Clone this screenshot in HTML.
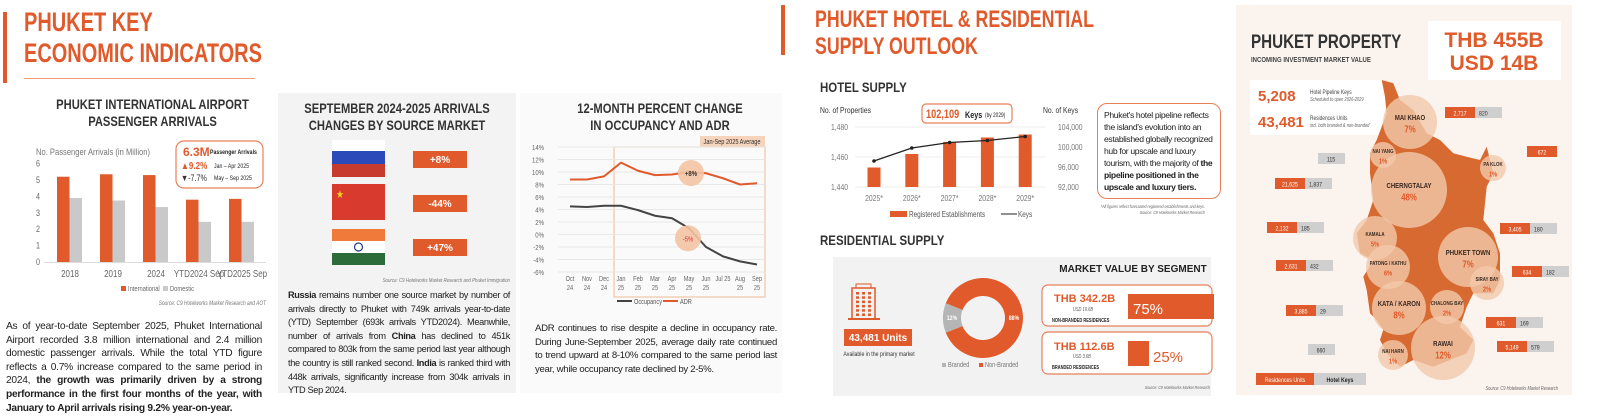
<!DOCTYPE html>
<html><head><meta charset="utf-8">
<style>
body{margin:0;width:1600px;height:420px;overflow:hidden;background:#fff;font-family:"Liberation Sans",sans-serif;position:relative}
.a{position:absolute}
.p{position:absolute;font-size:10.2px;line-height:13.6px;text-align:justify;color:#222;letter-spacing:-0.25px}
.ttl{position:absolute;color:#e05a2b;font-weight:bold;font-size:27px;line-height:31px;transform:scaleX(.74);transform-origin:left top;white-space:nowrap}
.ch{position:absolute;font-weight:bold;color:#333;font-size:14px;line-height:17px;text-align:center;transform:scaleX(.8);transform-origin:center top;white-space:nowrap}
.hd{position:absolute;font-weight:bold;font-size:14px;color:#333;transform:scaleX(.82);transform-origin:left top;white-space:nowrap}
svg text{font-family:"Liberation Sans",sans-serif}
</style></head><body>
<div class="a" style="left:3px;top:12px;width:4px;height:71px;background:#e05a2b"></div>
<div class="ttl" style="left:24px;top:7px">PHUKET KEY<br>ECONOMIC INDICATORS</div>
<div class="a" style="left:24px;top:78px;width:231px;height:1px;background:#f0a070"></div>
<div class="a" style="left:278px;top:93px;width:238px;height:300px;background:#f3f3f3"></div>
<div class="a" style="left:520px;top:93px;width:262px;height:300px;background:#fafafa"></div>
<div class="ch" style="left:30px;top:96px;width:245px">PHUKET INTERNATIONAL AIRPORT<br>PASSENGER ARRIVALS</div>
<div class="ch" style="left:278px;top:100px;width:238px">SEPTEMBER 2024-2025 ARRIVALS<br>CHANGES BY SOURCE MARKET</div>
<div class="ch" style="left:540px;top:100px;width:240px">12-MONTH PERCENT CHANGE<br>IN OCCUPANCY AND ADR</div>
<div class="p" style="left:6px;top:320px;width:256px">As of year-to-date September 2025, Phuket International Airport recorded 3.8 million international and 2.4 million domestic passenger arrivals. While the total YTD figure reflects a 0.7% increase compared to the same period in 2024, <b>the growth was primarily driven by a strong performance in the first four months of the year, with January to April arrivals rising 9.2% year-on-year.</b></div>
<div class="p" style="left:288px;top:289px;width:222px;font-size:9.2px;letter-spacing:-0.35px"><b>Russia</b> remains number one source market by number of arrivals directly to Phuket with 749k arrivals year-to-date (YTD) September (693k arrivals YTD2024). Meanwhile, number of arrivals from <b>China</b> has declined to 451k compared to 803k from the same period last year although the country is still ranked second. <b>India</b> is ranked third with 448k arrivals, significantly increase from 304k arrivals in YTD Sep 2024.</div>
<div class="p" style="left:535px;top:322px;width:242px;font-size:9.6px;letter-spacing:-0.3px">ADR continues to rise despite a decline in occupancy rate. During June-September 2025, average daily rate continued to trend upward at 8-10% compared to the same period last year, while occupancy rate declined by 2-5%.</div>

<div class="a" style="left:781px;top:5px;width:4px;height:50px;background:#e05a2b"></div>
<div class="ttl" style="left:815px;top:6px;font-size:24px;line-height:27px">PHUKET HOTEL &amp; RESIDENTIAL<br>SUPPLY OUTLOOK</div>
<div class="hd" style="left:820px;top:79px">HOTEL SUPPLY</div>
<div class="a" style="left:1097px;top:103px;width:110px;height:84px;border:1.5px solid #e8805a;border-radius:10px;padding:5px 6px;font-size:8.6px;line-height:12px;color:#222;letter-spacing:-0.35px">Phuket's hotel pipeline reflects the island's evolution into an established globally recognized hub for upscale and luxury tourism, with the majority of <b>the pipeline positioned in the upscale and luxury tiers.</b></div>
<div class="hd" style="left:820px;top:232px">RESIDENTIAL SUPPLY</div>
<div class="a" style="left:833px;top:257px;width:378px;height:139px;background:#f2f2f2"></div>
<div class="a" style="left:1236px;top:5px;width:336px;height:390px;background:#fbf3ee"></div>

<svg class="a" style="left:0;top:0" width="1600" height="420">
<g id="g1"></g><g id="g2"></g><g id="g3"></g><g id="g4"></g><g id="g5"></g>
</svg>

<script>
// ---- Airport chart data
const airCats=["2018","2019","2024","YTD2024 Sep","YTD2025 Sep"];
const airIntl=[5.2,5.35,5.3,3.8,3.85];
const airDom=[3.9,3.75,3.35,2.45,2.45];
const airTicks=[0,1,2,3,4,5,6];
// ---- Occupancy / ADR data
const omMonths=[["Oct","24"],["Nov","24"],["Dec","24"],["Jan","25"],["Feb","25"],["Mar","25"],["Apr","25"],["May","25"],["Jun","25"],["Jul 25",""],["Aug","25"],["Sep","25"]];
const omAdr=[8.8,8.8,9.3,11.5,10.2,9.5,9.6,10,9.8,9.0,8.0,8.2];
const omOcc=[4.5,4.4,4.6,4.6,3.9,3.0,2.6,1.0,-2.0,-3.5,-4.3,-4.8];
const omTicks=[14,12,10,8,6,4,2,0,-2,-4,-6];
// ---- Hotel supply data
const hsYears=["2025*","2026*","2027*","2028*","2029*"];
const hsProps=[1453,1462,1470,1473,1475];
const hsKeys=[97200,99800,100900,101300,102100];
const hsLeftTicks=[1440,1460,1480];
const hsRightTicks=[92000,96000,100000,104000];
// ---- Residential donut
const donutLabels=["Branded","Non-Branded"];
const donutVals=[12,88];

const NS="http://www.w3.org/2000/svg";
const OR="#e05a2b",GR="#c9c9c9";
function mk(par,tag,at,txt){const e=document.createElementNS(NS,tag);for(const k in at)e.setAttribute(k,at[k]);if(txt!==undefined)e.textContent=txt;par.appendChild(e);return e;}

// ===== Airport chart
(function(){
const g=document.getElementById('g1');
const y=v=>262-v*16.4, x=i=>76+i*43;
mk(g,'text',{x:36,y:155,'font-size':9.5,fill:'#777'},'No. Passenger Arrivals (in Million)');
airTicks.forEach(t=>{const e=mk(g,'text',{x:36,y:y(t)+3,'font-size':9,fill:'#666'},t);});
mk(g,'line',{x1:44,x2:266,y1:262.5,y2:262.5,stroke:'#ddd'});
airCats.forEach((c,i)=>{
 const b=mk(g,'rect',{x:x(i)-19,y:y(airIntl[i]),width:12.5,height:airIntl[i]*16.4,fill:OR});
 
 const d=mk(g,'rect',{x:x(i)-6.5,y:y(airDom[i]),width:12.5,height:airDom[i]*16.4,fill:GR});
 
 const l=mk(g,'text',{x:x(i)-6,y:277,'font-size':10,fill:'#666','text-anchor':'middle'},c);
 
});
mk(g,'rect',{x:121,y:286,width:5,height:5,fill:OR});mk(g,'text',{x:128,y:291,'font-size':7.2,fill:'#666'},'International');
mk(g,'rect',{x:163,y:286,width:5,height:5,fill:GR});mk(g,'text',{x:170,y:291,'font-size':7.2,fill:'#666'},'Domestic');
mk(g,'text',{x:266,y:305,'font-size':6,fill:'#777','text-anchor':'end','font-style':'italic'},'Source: C9 Hotelworks Market Research and AOT');
mk(g,'rect',{x:176,y:141,width:87,height:47,rx:8,fill:'#fff',stroke:'#e8805a','stroke-width':1.2});
mk(g,'text',{x:183,y:156,'font-size':12,fill:OR,'font-weight':'bold','font-family':'Liberation Serif'},'6.3M');
mk(g,'text',{x:210,y:154,'font-size':6.5,fill:'#222','font-weight':'bold'},'Passenger Arrivals');
mk(g,'text',{x:181,y:169,'font-size':10,fill:OR,'font-weight':'bold'},'▲9.2%');
mk(g,'text',{x:214,y:168,'font-size':6.5,fill:'#222'},'Jan – Apr 2025');
mk(g,'text',{x:181,y:181,'font-size':9,fill:'#333'},'▼-7.7%');
mk(g,'text',{x:214,y:180,'font-size':6.5,fill:'#222'},'May – Sep 2025');
})();

// ===== Flags
(function(){
const g=document.getElementById('g2');
const fx=332,fw=53;
mk(g,'rect',{x:fx,y:140,width:fw,height:12,fill:'#fff'});mk(g,'rect',{x:fx,y:151,width:fw,height:13,fill:'#2b49b8'});mk(g,'rect',{x:fx,y:164,width:fw,height:13,fill:'#c73b2e'});
mk(g,'rect',{x:fx,y:184,width:fw,height:36,fill:'#d93a2e'});mk(g,'text',{x:336,y:198,'font-size':11,fill:'#f7d21c'},'★');
mk(g,'rect',{x:fx,y:229,width:fw,height:12,fill:'#f07a3a'});mk(g,'rect',{x:fx,y:241,width:fw,height:12,fill:'#fff'});mk(g,'rect',{x:fx,y:253,width:fw,height:12,fill:'#2c6b3a'});
mk(g,'circle',{cx:358.5,cy:247,r:4,fill:'none',stroke:'#233d8c','stroke-width':1.2});
const vals=['+8%','-44%','+47%'],ys=[151,195,239];
vals.forEach((v,i)=>{mk(g,'rect',{x:413,y:ys[i],width:54,height:17,fill:OR});mk(g,'text',{x:440,y:ys[i]+12,'font-size':10,fill:'#fff','text-anchor':'middle','font-family':'Liberation Serif','font-weight':'bold'},v);});
mk(g,'text',{x:510,y:282,'font-size':5.5,fill:'#777','text-anchor':'end','font-style':'italic'},'Source: C9 Hotelworks Market Research and Phuket Immigration');
})();

// ===== Occupancy & ADR
(function(){
const g=document.getElementById('g3');
const y=v=>234.5-v*6.25, x=i=>570+i*17;
mk(g,'rect',{x:614,y:147,width:151,height:150,fill:'none',stroke:'#f3c4a6','stroke-width':1.2});
mk(g,'rect',{x:700,y:136,width:65,height:11,fill:'#f6d3bb'});
mk(g,'text',{x:732,y:144,'font-size':7,fill:'#333','text-anchor':'middle'},'Jan-Sep 2025 Average');
omTicks.forEach(t=>{mk(g,'line',{x1:558,x2:765,y1:y(t),y2:y(t),stroke:'#e8e8e8'});const e=mk(g,'text',{x:544,y:y(t)+3,'font-size':7.5,fill:'#666','text-anchor':'end'},t+'%');});
const path=arr=>arr.map((v,i)=>(i?'L':'M')+x(i)+','+y(v)).join(' ');
const a=mk(g,'path',{d:path(omAdr),fill:'none',stroke:OR,'stroke-width':2,'stroke-linejoin':'round'});
const o=mk(g,'path',{d:path(omOcc),fill:'none',stroke:'#444','stroke-width':2,'stroke-linejoin':'round'});
mk(g,'circle',{cx:x(7)+2,cy:y(omAdr[7])+1,r:13,fill:'#f3c3a3',opacity:0.9});mk(g,'text',{x:x(7)+2,y:y(omAdr[7])+4,'font-size':7.5,fill:'#333','text-anchor':'middle','font-weight':'bold'},'+8%');
mk(g,'circle',{cx:x(7)-1,cy:y(omOcc[7])+10,r:13,fill:'#f3c3a3',opacity:0.9});mk(g,'text',{x:x(7)-1,y:y(omOcc[7])+13,'font-size':7.5,fill:'#d33','text-anchor':'middle'},'-5%');
omMonths.forEach((m,i)=>{mk(g,'text',{x:x(i),y:281,'font-size':7,fill:'#666','text-anchor':'middle'},m[0]);mk(g,'text',{x:x(i),y:290,'font-size':7,fill:'#666','text-anchor':'middle'},m[1]);});
mk(g,'line',{x1:617,x2:632,y1:301,y2:301,stroke:'#444','stroke-width':2});mk(g,'text',{x:634,y:304,'font-size':7,fill:'#555'},'Occupancy');
mk(g,'line',{x1:663,x2:678,y1:301,y2:301,stroke:OR,'stroke-width':2});mk(g,'text',{x:680,y:304,'font-size':7,fill:'#555'},'ADR');
})();

// ===== Hotel supply
(function(){
const g=document.getElementById('g4');
const y=v=>187-(v-1440)*1.5, yk=v=>187-(v-92000)*0.005, x=i=>874+i*37.8;
mk(g,'text',{x:820,y:113,'font-size':8.5,fill:'#333'},'No. of Properties');
mk(g,'text',{x:1043,y:113,'font-size':8.5,fill:'#333'},'No. of Keys');
hsLeftTicks.forEach(t=>{mk(g,'line',{x1:855,x2:1045,y1:y(t),y2:y(t),stroke:'#eee'});mk(g,'text',{x:848,y:y(t)+3,'font-size':8.5,fill:'#777','text-anchor':'end'},t.toLocaleString('en-US'));});
hsRightTicks.forEach(t=>{mk(g,'text',{x:1058,y:yk(t)+3,'font-size':8.5,fill:'#777'},t.toLocaleString('en-US'));});
hsYears.forEach((c,i)=>{const b=mk(g,'rect',{x:x(i)-6.5,y:y(hsProps[i]),width:13,height:187-y(hsProps[i]),fill:OR});
 mk(g,'text',{x:x(i),y:201,'font-size':8.5,fill:'#777','text-anchor':'middle'},c);});
const k=mk(g,'path',{d:hsKeys.map((v,i)=>(i?'L':'M')+x(i)+','+yk(v)).join(' '),fill:'none',stroke:'#222','stroke-width':1.3});
hsKeys.forEach((v,i)=>mk(g,'circle',{cx:x(i),cy:yk(v),r:1.8,fill:'#222'}));
mk(g,'rect',{x:890,y:211,width:17,height:6,fill:OR});mk(g,'text',{x:909,y:217,'font-size':8,fill:'#555'},'Registered Establishments');
mk(g,'line',{x1:1001,x2:1017,y1:214,y2:214,stroke:'#222'});mk(g,'text',{x:1018,y:217,'font-size':8,fill:'#555'},'Keys');
mk(g,'rect',{x:922,y:104,width:90,height:19,rx:4,fill:'#fff',stroke:'#e8805a','stroke-width':1.2});
mk(g,'text',{x:926,y:118,'font-size':11.5,fill:OR,'font-weight':'bold'},'102,109');mk(g,'text',{x:965,y:118,'font-size':9,fill:'#222','font-weight':'bold'},'Keys');mk(g,'text',{x:985,y:117,'font-size':6,fill:'#222'},'(by 2029)');
mk(g,'text',{x:1205,y:208,'font-size':4.5,fill:'#666','text-anchor':'end','font-style':'italic'},'*All figures reflect forecasted registered establishments and keys.');
mk(g,'text',{x:1205,y:214,'font-size':4.5,fill:'#666','text-anchor':'end','font-style':'italic'},'Source: C9 Hotelworks Market Research');
})();

// ===== Residential
(function(){
const g=document.getElementById('g5');
mk(g,'rect',{x:852,y:288,width:23,height:31,fill:'none',stroke:OR,'stroke-width':1.5});mk(g,'rect',{x:848,y:318,width:32,height:2,fill:OR});mk(g,'rect',{x:856,y:284,width:15,height:4,fill:'none',stroke:OR});
for(let r=0;r<6;r++)for(let c=0;c<3;c++)mk(g,'rect',{x:856+c*6,y:292+r*4.3,width:3,height:2.5,fill:OR});
mk(g,'rect',{x:844,y:329,width:68,height:17,fill:OR});mk(g,'text',{x:878,y:341,'font-size':10,fill:'#fff','text-anchor':'middle','font-weight':'bold','font-family':'Liberation Serif'},'43,481 Units');
mk(g,'text',{x:879,y:356,'font-size':6.5,fill:'#333','text-anchor':'middle'},'Available in the primary market');
const cx=983,cy=318,R=40,r=22;
const cols=['#b5b5b5',OR];const tot=donutVals.reduce((s,v)=>s+v,0);
let a0=Math.PI-(donutVals[0]/tot)*Math.PI;
donutVals.forEach((v,i)=>{const a1=a0+v/tot*Math.PI*2;const lg=(a1-a0)>Math.PI?1:0;
 const P=(rr,a)=>(cx+rr*Math.cos(a)).toFixed(2)+','+(cy+rr*Math.sin(a)).toFixed(2);
 const s=mk(g,'path',{d:`M${P(R,a0)} A${R},${R} 0 ${lg} 1 ${P(R,a1)} L${P(r,a1)} A${r},${r} 0 ${lg} 0 ${P(r,a0)} Z`,fill:cols[i]});
 
 const am=(a0+a1)/2;mk(g,'text',{x:cx+31*Math.cos(am),y:cy+31*Math.sin(am)+2,'font-size':6.5,fill:'#fff','text-anchor':'middle','font-weight':'bold'},v+'%');
 a0=a1;});
mk(g,'rect',{x:942,y:363,width:4,height:4,fill:'#b5b5b5'});mk(g,'text',{x:948,y:367,'font-size':7,fill:'#777'},donutLabels[0]);
mk(g,'rect',{x:979,y:363,width:4,height:4,fill:OR});mk(g,'text',{x:985,y:367,'font-size':7,fill:'#777'},donutLabels[1]);
mk(g,'text',{x:1133,y:272,'font-size':10,fill:'#222','text-anchor':'middle','font-weight':'bold','font-family':'Liberation Serif'},'MARKET VALUE BY SEGMENT');
mk(g,'rect',{x:1042,y:285,width:170,height:41,rx:6,fill:'#fff',stroke:'#e8805a','stroke-width':1.2});
mk(g,'rect',{x:1042,y:332,width:170,height:42,rx:6,fill:'#fff',stroke:'#e8805a','stroke-width':1.2});
mk(g,'text',{x:1054,y:302,'font-size':11,fill:OR,'font-weight':'bold','font-family':'Liberation Serif'},'THB 342.2B');
mk(g,'text',{x:1073,y:311,'font-size':5,fill:'#555','font-style':'italic'},'USD 10.6B');
mk(g,'text',{x:1052,y:322,'font-size':5,fill:'#222','font-weight':'bold'},'NON-BRANDED RESIDENCES');
mk(g,'rect',{x:1128,y:294,width:86,height:25,fill:OR});mk(g,'text',{x:1133,y:314,'font-size':15,fill:'#fff','font-family':'Liberation Serif'},'75%');
mk(g,'text',{x:1054,y:350,'font-size':11,fill:OR,'font-weight':'bold','font-family':'Liberation Serif'},'THB 112.6B');
mk(g,'text',{x:1073,y:358,'font-size':5,fill:'#555','font-style':'italic'},'USD 3.6B');
mk(g,'text',{x:1052,y:369,'font-size':5,fill:'#222','font-weight':'bold'},'BRANDED RESIDENCES');
mk(g,'rect',{x:1128,y:341,width:21,height:25,fill:OR});mk(g,'text',{x:1153,y:362,'font-size':15,fill:OR,'font-family':'Liberation Serif'},'25%');
mk(g,'text',{x:1210,y:389,'font-size':4.5,fill:'#666','text-anchor':'end','font-style':'italic'},'Source: C9 Hotelworks Market Research');

// ===== Property map
mk(g,'text',{x:1251,y:48,'font-size':19,fill:'#333','font-weight':'bold'},'PHUKET PROPERTY');
mk(g,'text',{x:1251,y:62,'font-size':7.5,fill:'#444','font-weight':'bold'},'INCOMING INVESTMENT MARKET VALUE');
mk(g,'rect',{x:1428,y:21,width:133,height:59,fill:'#fff'});
mk(g,'text',{x:1494,y:47,'font-size':21,fill:OR,'font-weight':'bold','font-family':'Liberation Serif','text-anchor':'middle'},'THB 455B');
mk(g,'text',{x:1494,y:70,'font-size':21,fill:OR,'font-weight':'bold','font-family':'Liberation Serif','text-anchor':'middle'},'USD 14B');
mk(g,'rect',{x:1250,y:80,width:135,height:55,fill:'#fff'});
mk(g,'text',{x:1258,y:101,'font-size':15,fill:OR,'font-weight':'bold','font-family':'Liberation Serif'},'5,208');
mk(g,'text',{x:1310,y:94,'font-size':6,fill:'#444'},'Hotel Pipeline Keys');mk(g,'text',{x:1310,y:101,'font-size':5,fill:'#666','font-style':'italic'},'Scheduled to open 2026-2029');
mk(g,'text',{x:1258,y:127,'font-size':15,fill:OR,'font-weight':'bold','font-family':'Liberation Serif'},'43,481');
mk(g,'text',{x:1310,y:120,'font-size':6,fill:'#444'},'Residences Units');mk(g,'text',{x:1310,y:127,'font-size':5,fill:'#666','font-style':'italic'},'incl. both branded & non-branded');
const poly=[[545,240],[580,250],[600,300],[640,330],[680,400],[720,420],[760,460],[800,470],[840,480],[860,440],[870,480],[880,520],[860,560],[850,660],[880,700],[900,760],[900,840],[880,880],[820,880],[800,920],[780,980],[820,1020],[800,1060],[700,1100],[640,1080],[600,1100],[560,1060],[540,1020],[550,990],[530,960],[510,940],[500,870],[490,830],[520,780],[480,760],[470,700],[500,660],[520,600],[510,520],[510,460],[530,420],[560,340],[555,290]];
const m=mk(g,'polygon',{points:poly.map(p=>(p[0]/3+1200).toFixed(1)+','+(p[1]/3).toFixed(1)).join(' '),fill:'#d66a30'});

const circ=[["MAI KHAO","7%",1410,122,27],["NAI YANG","1%",1383,155,13],["CHERNGTALAY","48%",1409,190,38],["PA KLOK","1%",1493,168,13],["KAMALA","5%",1375,238,22],["PATONG / KATHU","6%",1388,267,22],["PHUKET TOWN","7%",1468,257,30],["SIRAY BAY","2%",1487,283,17],["KATA / KARON","8%",1399,308,27],["CHALONG BAY","2%",1447,307,17],["RAWAI","12%",1443,348,32],["NAI HARN","1%",1393,355,15]];
circ.forEach(c=>{mk(g,'circle',{cx:c[2],cy:c[3],r:c[4],fill:'#f3c9ab',opacity:0.8});});
circ.forEach(c=>{const fs=c[4]>25?7.5:5.5;mk(g,'text',{x:c[2],y:c[3]-2,'font-size':fs,fill:'#3a2a22','text-anchor':'middle','font-weight':'bold'},c[0]);
 mk(g,'text',{x:c[2],y:c[3]+fs+3,'font-size':fs*1.3,fill:OR,'text-anchor':'middle','font-weight':'bold'},c[1]);});
const lab=[[1445,107,"2,717","820"],[1318,153,"","115"],[1527,146,"672",""],[1275,178,"21,625","1,837"],[1500,223,"3,405","180"],[1267,222,"2,132","185"],[1512,266,"634","182"],[1276,260,"2,631","432"],[1286,305,"3,885","29"],[1486,317,"631","169"],[1308,344,"","660"],[1497,341,"5,149","579"]];
lab.forEach(l=>{let x=l[0];if(l[2]){mk(g,'rect',{x:x,y:l[1],width:30,height:11,fill:OR});mk(g,'text',{x:x+15,y:l[1]+8.5,'font-size':6.5,fill:'#fff','text-anchor':'middle'},l[2]);x+=30;}
 if(l[3]){mk(g,'rect',{x:x,y:l[1],width:27,height:11,fill:'#cfcfcf'});mk(g,'text',{x:x+(l[2]?4:13),y:l[1]+8.5,'font-size':6.5,fill:'#333','text-anchor':l[2]?'start':'middle'},l[3]);}});
mk(g,'rect',{x:1256,y:373,width:58,height:12,fill:OR});mk(g,'text',{x:1285,y:382,'font-size':6.5,fill:'#fff','text-anchor':'middle'},'Residences Units');
mk(g,'rect',{x:1314,y:373,width:52,height:12,fill:'#cfcfcf'});mk(g,'text',{x:1340,y:382,'font-size':6.5,fill:'#222','text-anchor':'middle','font-weight':'bold'},'Hotel Keys');
mk(g,'text',{x:1558,y:390,'font-size':5,fill:'#666','text-anchor':'end','font-style':'italic'},'Source: C9 Hotelworks Market Research');
})();

// condense sans-serif svg text to mimic narrow font
document.querySelectorAll('svg text').forEach(t=>{
 if(t.getAttribute('font-family')==='Liberation Serif')return;
 const L=t.getComputedTextLength();
 if(L>0){t.setAttribute('textLength',(L*0.8).toFixed(1));t.setAttribute('lengthAdjust','spacingAndGlyphs');}
});
</script>
</body></html>
